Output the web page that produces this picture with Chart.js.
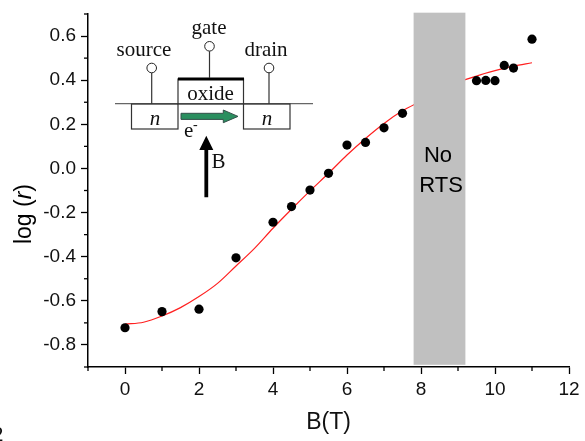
<!DOCTYPE html>
<html>
<head>
<meta charset="utf-8">
<title>log(r) vs B</title>
<script src="https://cdn.jsdelivr.net/npm/chart.js@4/dist/chart.umd.min.js"></script>
<style>
  html, body { margin: 0; padding: 0; background: #fff; overflow: hidden; }
  canvas { display: block; }
</style>
</head>
<body>
<canvas id="plot" width="585" height="441"></canvas>
<script>
// measured points
const pointB = [0, 1, 2, 3, 4, 4.5, 5, 5.5, 6, 6.5, 7, 7.5, 9.5, 9.75, 10, 10.25, 10.5, 11];
const pointLogR = [-0.722, -0.649, -0.638, -0.405, -0.244, -0.173, -0.098, -0.022, 0.106, 0.118, 0.184, 0.25, 0.398, 0.399, 0.398, 0.467, 0.455, 0.586];

// red fit curve
const fitB = [0, 0.5, 1, 1.5, 2, 2.5, 3, 3.5, 4, 4.5, 5, 5.5, 6, 6.5, 7, 7.5, 8, 8.5, 9, 9.5, 10, 10.5, 11];
const fitLogR = [-0.706, -0.697, -0.669, -0.631, -0.581, -0.521, -0.442, -0.362, -0.271, -0.185, -0.102, -0.022, 0.061, 0.136, 0.204, 0.261, 0.305, 0.35, 0.39, 0.419, 0.443, 0.464, 0.479];

// grey "No RTS" band
const bandB = [7.8, 9.2];
const bandTop = 0.706;
const bandBottom = -0.89;

const xMajor = [0, 2, 4, 6, 8, 10, 12];
const xMinor = [-1, 1, 3, 5, 7, 9, 11];
const yMajor = [-0.8, -0.6, -0.4, -0.2, 0, 0.2, 0.4, 0.6];
const yMinor = [-0.9, -0.7, -0.5, -0.3, -0.1, 0.1, 0.3, 0.5, 0.7];

const SANS = '"Liberation Sans", Arial, sans-serif';
const SERIF = '"Liberation Serif", "Times New Roman", serif';

function serifText(ctx, str, x, y, align, style) {
  ctx.font = (style || '') + ' 21px ' + SERIF;
  ctx.textAlign = align;
  ctx.textBaseline = 'alphabetic';
  ctx.fillStyle = '#111';
  ctx.fillText(str, x, y);
}

function line(ctx, x1, y1, x2, y2, w, col) {
  ctx.beginPath();
  ctx.moveTo(x1, y1);
  ctx.lineTo(x2, y2);
  ctx.lineWidth = w;
  ctx.strokeStyle = col;
  ctx.stroke();
}

function pin(ctx, x, cy, yEnd) {
  line(ctx, x, cy + 5, x, yEnd, 1.2, '#333');
  ctx.beginPath();
  ctx.arc(x, cy, 4.8, 0, Math.PI * 2);
  ctx.fillStyle = '#fff';
  ctx.fill();
  ctx.lineWidth = 1;
  ctx.strokeStyle = '#222';
  ctx.stroke();
}

function polygon(ctx, pts, fill, stroke) {
  ctx.beginPath();
  pts.forEach(function(p, i) {
    if (i == 0) ctx.moveTo(p[0], p[1]);
    else ctx.lineTo(p[0], p[1]);
  });
  ctx.closePath();
  ctx.fillStyle = fill;
  ctx.fill();
  if (stroke) {
    ctx.lineWidth = 1;
    ctx.strokeStyle = stroke;
    ctx.stroke();
  }
}

// small ticks, the y title with its italic r, the band text and the device sketch
const extras = {
  id: 'extras',
  afterDatasetsDraw(chart) {
    // band sits over the curve and pokes out of the chart area a little
    const ctx = chart.ctx;
    const xs = chart.scales.x;
    const ys = chart.scales.y;
    const left = xs.getPixelForValue(bandB[0]);
    const top = ys.getPixelForValue(bandTop);
    ctx.save();
    ctx.fillStyle = '#c0c0c0';
    ctx.fillRect(left, top, xs.getPixelForValue(bandB[1]) - left, ys.getPixelForValue(bandBottom) - top);
    ctx.restore();
  },
  afterDraw(chart) {
    const ctx = chart.ctx;
    const xs = chart.scales.x;
    const ys = chart.scales.y;
    ctx.save();

    xMinor.forEach(function(v) {
      const p = xs.getPixelForValue(v);
      line(ctx, p, xs.top, p, xs.top + 4, 1.3, '#000');
    });
    yMinor.forEach(function(v) {
      const p = ys.getPixelForValue(v);
      line(ctx, xs.left - 4, p, xs.left, p, 1.3, '#000');
    });

    // log (r)
    ctx.save();
    ctx.translate(31, 214);
    ctx.rotate(-Math.PI / 2);
    ctx.fillStyle = '#000';
    ctx.textBaseline = 'alphabetic';
    ctx.textAlign = 'left';
    const parts = [['log (', ''], ['r', 'italic '], [')', '']];
    let total = 0;
    parts.forEach(function(t) {
      ctx.font = t[1] + '23px ' + SANS;
      total += ctx.measureText(t[0]).width;
    });
    let at = -total / 2;
    parts.forEach(function(t) {
      ctx.font = t[1] + '23px ' + SANS;
      ctx.fillText(t[0], at, 0);
      at += ctx.measureText(t[0]).width;
    });
    ctx.restore();

    // band text
    ctx.fillStyle = '#000';
    ctx.textAlign = 'center';
    ctx.textBaseline = 'alphabetic';
    ctx.font = '22px ' + SANS;
    ctx.fillText('No', 438, 162);
    ctx.fillText('RTS', 441, 192);

    // device sketch
    line(ctx, 115, 103.7, 313, 103.7, 1.2, '#666');
    ctx.lineWidth = 1.2;
    ctx.strokeStyle = '#333';
    ctx.strokeRect(131.5, 104, 46.5, 25);
    ctx.strokeRect(243.5, 104, 46.5, 25);
    ctx.strokeRect(178, 79, 65.5, 25);
    line(ctx, 178, 79, 244, 79, 3, '#000');
    pin(ctx, 209.5, 46.3, 78);
    pin(ctx, 151.7, 68, 104);
    pin(ctx, 269, 68, 104);

    serifText(ctx, 'source', 144, 56, 'center');
    serifText(ctx, 'gate', 209, 34, 'center');
    serifText(ctx, 'drain', 266, 56, 'center');
    serifText(ctx, 'oxide', 210.5, 99.5, 'center');
    serifText(ctx, 'n', 155, 125, 'center', 'italic');
    serifText(ctx, 'n', 267, 125, 'center', 'italic');
    serifText(ctx, 'e', 184, 137, 'left');
    ctx.font = '14px ' + SERIF;
    ctx.fillText('-', 193, 129);
    serifText(ctx, 'B', 211.5, 168, 'left');

    polygon(ctx, [[181, 113.3], [223.3, 113.3], [223.3, 110], [238, 116.4], [223.3, 122.7], [223.3, 119.4], [181, 119.4]], '#2a8f5f', '#35504a');
    polygon(ctx, [[206.3, 135.7], [213.3, 150], [208.2, 150], [208.2, 197.3], [204.4, 197.3], [204.4, 150], [199.3, 150]], '#000');

    // cut off character at the page corner
    serifText(ctx, '2', -7, 441, 'left');

    ctx.restore();
  }
};

new Chart(document.getElementById('plot'), {
  type: 'scatter',
  data: {
    datasets: [
      {
        label: 'data',
        data: pointB.map(function(b, i) { return { x: b, y: pointLogR[i] }; }),
        pointRadius: 4.6,
        pointBackgroundColor: '#000',
        pointBorderWidth: 0,
        order: 2
      },
      {
        label: 'fit',
        data: fitB.map(function(b, i) { return { x: b, y: fitLogR[i] }; }),
        showLine: true,
        pointRadius: 0,
        borderColor: '#ff2020',
        borderWidth: 1.2,
        cubicInterpolationMode: 'monotone',
        order: 3
      }
    ]
  },
  options: {
    responsive: false,
    animation: false,
    devicePixelRatio: 1,
    layout: { padding: { left: 0, top: 14, right: 16, bottom: 0 } },
    plugins: { legend: { display: false }, tooltip: { enabled: false } },
    scales: {
      x: {
        type: 'linear',
        min: -1,
        max: 12,
        afterFit(s) { s.height = 74; },
        afterBuildTicks(s) { s.ticks = xMajor.map(function(v) { return { value: v }; }); },
        border: { color: '#000', width: 1.5 },
        grid: { drawOnChartArea: false, tickLength: 7, tickColor: '#000', tickWidth: 1.3 },
        ticks: {
          autoSkip: false,
          maxRotation: 0,
          padding: 4,
          color: '#111',
          font: { family: SANS, size: 19 },
          callback(v) { return String(v); }
        },
        title: {
          display: true,
          text: 'B(T)',
          color: '#111',
          font: { family: SANS, size: 23 },
          padding: { top: 0, bottom: 5 }
        }
      },
      y: {
        type: 'linear',
        min: -0.9,
        max: 0.7,
        afterFit(s) {
          s.width = 88;
          // the label margins would otherwise push the axis top down
          s.paddingTop = 0;
          s.paddingBottom = 0;
        },
        afterBuildTicks(s) { s.ticks = yMajor.map(function(v) { return { value: v }; }); },
        border: { color: '#000', width: 1.5 },
        grid: { drawOnChartArea: false, tickLength: 7, tickColor: '#000', tickWidth: 1.3 },
        ticks: {
          autoSkip: false,
          padding: 5,
          color: '#111',
          font: { family: SANS, size: 19 },
          callback(v) { return Number(v).toFixed(1); }
        }
      }
    }
  },
  plugins: [extras]
});
</script>
</body>
</html>
